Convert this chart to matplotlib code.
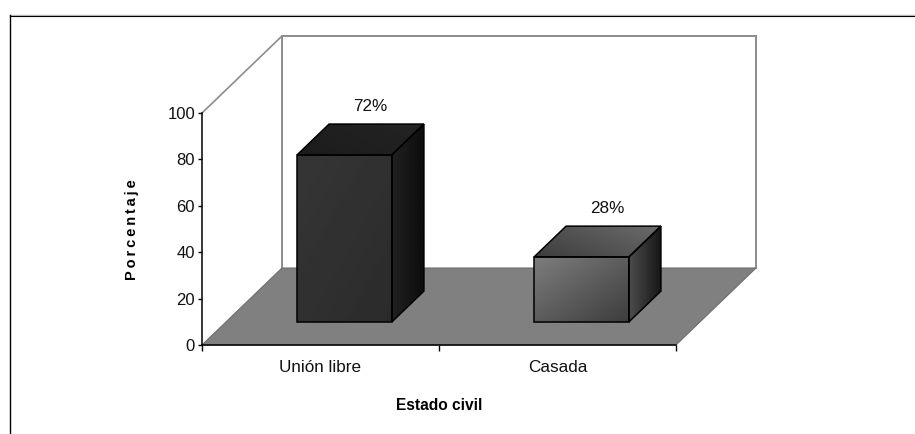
import matplotlib
matplotlib.use('Agg')
import matplotlib.pyplot as plt
from matplotlib.lines import Line2D
from matplotlib.patches import Polygon
import numpy as np

categories = ['Unión libre', 'Casada']
values = [72, 28]
value_labels = ['72%', '28%']
y_ticks = [0, 20, 40, 60, 80, 100]

plt.rcParams['font.family'] = ['Liberation Sans', 'DejaVu Sans']

W, H = 915, 434
fig = plt.figure(figsize=(W / 100, H / 100), dpi=100, facecolor='white')

# outer frame, only top and left are visible
fig.add_artist(Line2D([10 / W, 1], [1 - 15 / H, 1 - 15 / H], color='#c0c0c0', lw=1.0))
fig.add_artist(Line2D([10 / W, 1], [1 - 15.7 / H, 1 - 15.7 / H], color='black', lw=0.8))
fig.add_artist(Line2D([10 / W, 10 / W], [0, 1 - 15 / H], color='black', lw=1.0))

# axes covers the front edge of the chart, everything behind it spills out
ax = fig.add_axes([202 / W, 1 - 345 / H, 474 / W, 232 / H])
ax.set_xlim(0, 2)
ax.set_ylim(0, 100)
ax.patch.set_visible(False)

# oblique depth: full depth of the box in data units
DX = 80 / 237
DY = 77 / 2.32


def pt(x, y, d=0.0):
    return (x + d * DX, y + d * DY)


def poly(points, **kw):
    p = Polygon(points, closed=True, clip_on=False, **kw)
    ax.add_patch(p)
    return p


def shade(points, c0, c1, angle, z):
    # gradient between two greys, clipped to a polygon
    xs = [p[0] for p in points]
    ys = [p[1] for p in points]
    u, v = np.meshgrid(np.linspace(0, 1, 60), np.linspace(0, 1, 60))
    a = np.radians(angle)
    t = u * np.cos(a) + v * np.sin(a)
    t = (t - t.min()) / (t.max() - t.min())
    img = ax.imshow(c0 + (c1 - c0) * t, cmap='gray', vmin=0, vmax=1, origin='lower',
                    extent=(min(xs), max(xs), min(ys), max(ys)), aspect='auto',
                    zorder=z, interpolation='bilinear')
    clip = poly(points, facecolor='none', edgecolor='none', zorder=z)
    img.set_clip_path(clip)
    img.set_clip_on(True)
    poly(points, facecolor='none', edgecolor='black', lw=1.1, joinstyle='miter', zorder=z + 0.1)


# back wall and side wall outline
WALL = '#8c8c8c'
ax.plot(*zip(pt(0, 0, 1), pt(0, 100, 1), pt(2, 100, 1), pt(2, 0, 1)), color=WALL, lw=1.4,
        clip_on=False, zorder=1, solid_joinstyle='miter')
ax.plot(*zip(pt(0, 100), pt(0, 100, 1)), color=WALL, lw=1.2, clip_on=False, zorder=1)

# floor
poly([pt(0, 0), pt(2, 0), pt(2, 0, 1), pt(0, 0, 1)], facecolor='#808080', edgecolor='#6e6e6e',
     lw=0.8, zorder=2)

# bars, each one as front, top and side faces
bar_w = 0.4
bar_d0, bar_d1 = 0.3, 0.7
bar_styles = [
    {'front': (0.21, 0.17), 'top': (0.11, 0.14), 'side': (0.13, 0.05)},
    {'front': (0.49, 0.24), 'top': (0.24, 0.42), 'side': (0.30, 0.09)},
]
for i, (val, st) in enumerate(zip(values, bar_styles)):
    x0 = i + (1 - bar_w) / 2
    x1 = x0 + bar_w
    front = [pt(x0, 0, bar_d0), pt(x1, 0, bar_d0), pt(x1, val, bar_d0), pt(x0, val, bar_d0)]
    top = [pt(x0, val, bar_d0), pt(x1, val, bar_d0), pt(x1, val, bar_d1), pt(x0, val, bar_d1)]
    side = [pt(x1, 0, bar_d0), pt(x1, 0, bar_d1), pt(x1, val, bar_d1), pt(x1, val, bar_d0)]
    shade(side, st['side'][0], st['side'][1], 0, 3 + i)
    shade(top, st['top'][0], st['top'][1], 30, 3 + i)
    shade(front, st['front'][0], st['front'][1], -45, 3 + i)
    lx, ly = pt(i + 0.5, val, bar_d1)
    ax.annotate(value_labels[i], (lx, ly), xytext=(-4.3, 13), textcoords='offset points',
                ha='center', va='center', fontsize=12.3, color='#111111', annotation_clip=False,
                zorder=8)

ax.set_xlim(0, 2)
ax.set_ylim(0, 100)

for s in ['top', 'right']:
    ax.spines[s].set_visible(False)
for s in ['left', 'bottom']:
    ax.spines[s].set_linewidth(1.1)
    ax.spines[s].set_zorder(6)
ax.set_yticks(y_ticks)
ax.set_xticks([0, 1, 2])
ax.set_xticklabels([])
ax.set_xticks([0.5, 1.5], labels=categories, minor=True)
ax.tick_params(axis='y', labelsize=12, length=3, width=1, pad=2, labelcolor='#111111')
ax.tick_params(axis='x', which='major', length=4, width=1)
ax.tick_params(axis='x', which='minor', length=0, labelsize=12.3, pad=11, labelcolor='#111111')

fig.text(132 / W, 1 - 230 / H, '\u2009'.join('Porcentaje'), rotation=90, ha='center', va='center',
         fontsize=10.5, fontweight='bold')
fig.text(439 / W, 1 - 405 / H, 'Estado civil', ha='center', va='center',
         fontsize=11.2, fontweight='bold')

fig.savefig('out.png', dpi=100)
